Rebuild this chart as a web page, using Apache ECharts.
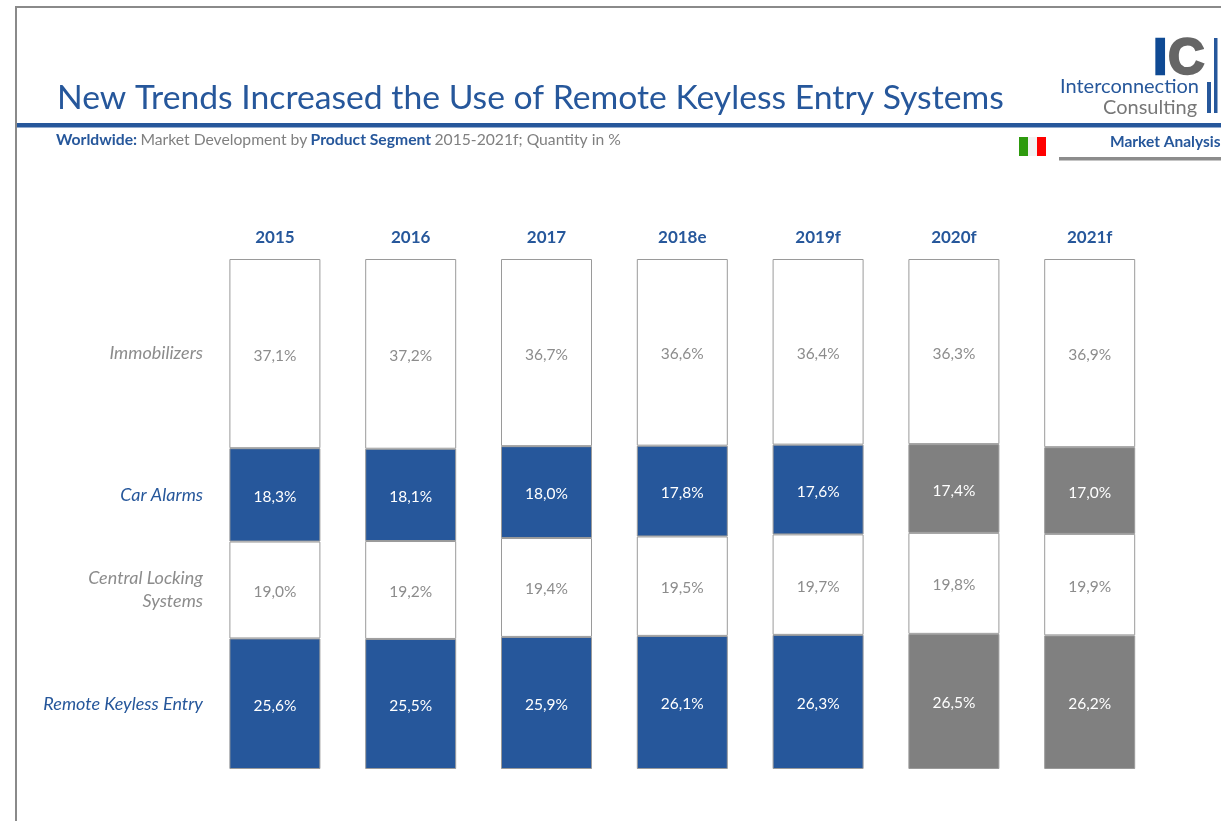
<!DOCTYPE html>
<html><head><meta charset="utf-8">
<style>html,body{margin:0;padding:0;background:#fff}#c{width:1221px;height:821px}</style>
<script src="https://cdn.jsdelivr.net/npm/echarts@6/dist/echarts.min.js"></script>
</head><body><div id="c"></div>
<script>
const years = ['2015','2016','2017','2018e','2019f','2020f','2021f'];
const remoteKeyless = [25.6,25.5,25.9,26.1,26.3,26.5,26.2];
const centralLocking = [19.0,19.2,19.4,19.5,19.7,19.8,19.9];
const carAlarms = [18.3,18.1,18.0,17.8,17.6,17.4,17.0];
const immobilizers = [37.1,37.2,36.7,36.6,36.4,36.3,36.9];
const greyYears = ['2020f','2021f'];

const BLUE='#26579b', GREY='#808080', TXT='#8c8c8c', EDGE='#9a9a9a';
const FONT='Lato, "Noto Sans", sans-serif';
const fmt = v => v.toFixed(1).replace('.',',')+'%';

function mkSeries(name, values, filled){
  return {
    name, type:'bar', stack:'s', barWidth:91,
    data: values.map((v,i)=>({value:v,itemStyle:{
      color: filled ? (greyYears.includes(years[i])?GREY:BLUE) : '#fff',
      borderColor:EDGE, borderWidth:1}})),
    label:{show:true,position:'inside',fontFamily:FONT,fontSize:15.5,
      color:filled?'#fff':TXT,formatter:p=>fmt(p.value),offset:[0,2]},
    emphasis:{disabled:true}
  };
}
const stacksFirst = [remoteKeyless,centralLocking,carAlarms,immobilizers].map(a=>a[0]);
let acc=0; const mids=stacksFirst.map(v=>{const m=acc+v/2;acc+=v;return m;});
const segLabels = {};
[['Remote Keyless Entry','b'],['Central Locking\nSystems','g'],['Car Alarms','b'],['Immobilizers','g']]
  .forEach((e,i)=>{segLabels[mids[i].toFixed(2)]=e;});

const t=(x,y,text,style)=>({type:'text',left:x,top:y,silent:true,style:Object.assign({text,fontFamily:FONT},style)});
const rect=(x,y,w,h,fill)=>({type:'rect',silent:true,shape:{x,y,width:w,height:h},style:{fill}});

const chart=echarts.init(document.getElementById('c'),null,{renderer:'canvas'});
chart.setOption({
  animation:false,backgroundColor:'#fff',
  grid:{left:207,top:259,width:950.6,height:510,containLabel:false},
  xAxis:{type:'category',position:'top',data:years,axisLine:{show:false},axisTick:{show:false},
    axisLabel:{color:BLUE,fontFamily:FONT,fontSize:17,fontWeight:'bold',margin:13}},
  yAxis:{type:'value',min:0,max:100,interval:100,splitLine:{show:false},axisLine:{show:false},axisTick:{show:false},
    axisLabel:{customValues:mids,margin:4,align:'right',fontFamily:FONT,fontStyle:'italic',fontSize:18,lineHeight:23,
      formatter:v=>{const e=segLabels[Number(v).toFixed(2)];return e?`{${e[1]}|${e[0].replace('\n',`}\n{${e[1]}|`)}}`:'';},
      rich:{b:{color:BLUE,fontFamily:FONT,fontStyle:'italic',fontSize:18,lineHeight:23},
            g:{color:TXT,fontFamily:FONT,fontStyle:'italic',fontSize:18,lineHeight:23}}}},
  series:[
    mkSeries('Remote Keyless Entry',remoteKeyless,true),
    mkSeries('Central Locking Systems',centralLocking,false),
    mkSeries('Car Alarms',carAlarms,true),
    mkSeries('Immobilizers',immobilizers,false)
  ],
  graphic:[
    rect(15,6,1206,2,'#8a8a8a'),
    rect(15,6,2,815,'#8a8a8a'),
    rect(17,123,1204,4.5,BLUE),
    rect(1059,157,162,3.5,'#8c8c8c'),
    rect(1019,137,9,19,'#2e9a0e'),
    rect(1028,137,9,19,'#f2f2f2'),
    rect(1037,137,9,19,'#ff0000'),
    rect(1214,38,3.5,75,BLUE),
    rect(1207,82,4,31,BLUE),
    t(57,81,'New Trends Increased the Use of Remote Keyless Entry Systems',{fill:BLUE,fontSize:33.7}),
    {type:'text',left:56,top:132,silent:true,style:{
      text:'{b|Worldwide:} {g|Market Development by} {b|Product Segment} {g|2015-2021f; Quantity in %}',
      rich:{b:{fill:BLUE,fontFamily:FONT,fontWeight:'bold',fontSize:15.7},
            g:{fill:'#808080',fontFamily:FONT,fontSize:15.7}}}},
    t(1152,34,'I',{fill:'#0f4a94',stroke:'#0f4a94',lineWidth:2.5,fontFamily:'Liberation Sans',fontWeight:'bold',fontSize:50}),
    t(1167,34,'C',{fill:'#666666',stroke:'#666666',lineWidth:2.5,fontFamily:'Liberation Sans',fontWeight:'bold',fontSize:50}),
    t(1060,77,'Interconnection',{fill:BLUE,fontSize:20}),
    t(1103,98,'Consulting',{fill:'#777777',fontSize:20}),
    t(1110,134,'Market Analysis',{fill:BLUE,fontSize:15.5,fontWeight:'bold'})
  ]
});
</script></body></html>
